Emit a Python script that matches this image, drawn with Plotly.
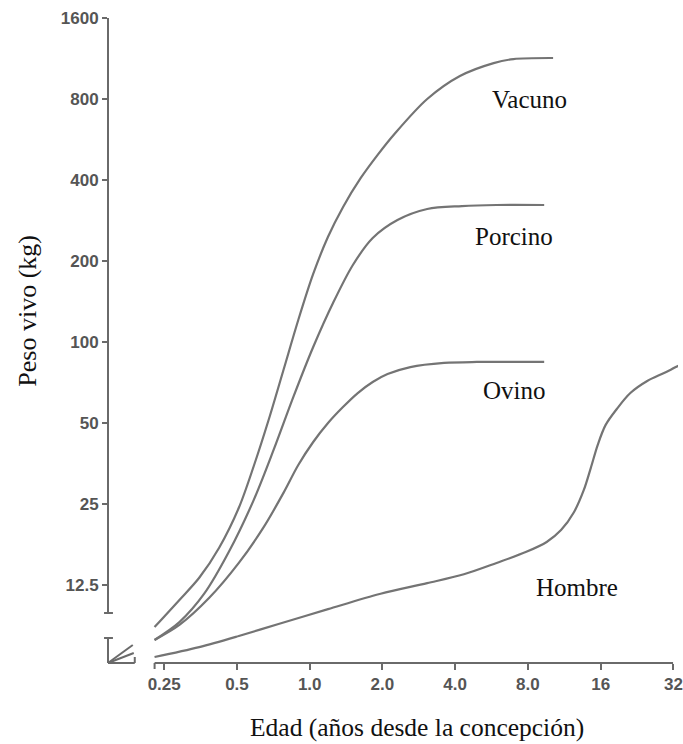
import math
import plotly.graph_objects as go

# ---------------- data ----------------
# Edad (años desde la concepción) vs Peso vivo (kg)
vacuno_x = [0.228, 0.289, 0.349, 0.422, 0.509, 0.587, 0.676, 0.779, 0.897, 1.034, 1.191, 1.373, 1.627, 1.911, 2.243, 3.064, 4.185, 5.770, 6.970, 10.17]
vacuno_y = [8.72, 11.0, 13.3, 17.2, 24.2, 34.6, 51.3, 78.7, 120.7, 179, 246, 317, 407, 496, 593, 800, 974, 1088, 1126, 1136]

porcino_x = [0.228, 0.289, 0.366, 0.463, 0.587, 0.709, 0.856, 1.034, 1.249, 1.509, 1.823, 2.308, 3.064, 4.265, 5.936, 9.341]
porcino_y = [7.81, 9.10, 11.6, 16.6, 25.9, 39.7, 62.5, 95.8, 139.6, 193.3, 243.5, 284, 312, 320, 323, 323]

ovino_x = [0.228, 0.289, 0.384, 0.509, 0.645, 0.779, 0.897, 1.034, 1.191, 1.373, 1.581, 1.823, 2.100, 2.609, 3.598, 4.914, 9.341]
ovino_y = [7.81, 8.88, 11.2, 15.1, 20.5, 27.5, 34.9, 42.5, 50.0, 57.3, 64.6, 71.0, 76.0, 80.7, 83.6, 84.3, 84.3]

hombre_x = [0.228, 0.349, 0.509, 0.743, 1.191, 1.966, 3.064, 4.346, 5.936, 7.881, 9.565, 10.97, 12.40, 13.63, 14.56, 15.55, 16.78, 18.78, 21.23, 24.93, 29.27, 33.42, 35.7]
hombre_y = [6.75, 7.35, 8.08, 8.95, 10.17, 11.6, 12.7, 13.7, 15.1, 16.6, 18.06, 20.0, 23.3, 28.2, 34.0, 41.4, 49.2, 56.8, 64.6, 71.6, 76.7, 81.4, 83.6]

x_ticks = [0.25, 0.5, 1, 2, 4, 8, 16, 32]
x_ticktext = ["0.25", "0.5", "1.0", "2.0", "4.0", "8.0", "16", "32"]
y_ticks = [12.5, 25, 50, 100, 200, 400, 800, 1600]
y_ticktext = ["12.5", "25", "50", "100", "200", "400", "800", "1600"]

series_names = ["Vacuno", "Porcino", "Ovino", "Hombre"]
label_x = [8.13, 7.0, 7.05, 12.75]
label_y = [800, 246, 65.8, 12.2]

# ---------------- layout geometry ----------------
W, H = 683, 744
L, R, T, B = 108, 683, 10, 663          # plot area in pixels
X_REF_PX, X_PX_PER_DBL = 164.7, 73.38   # 0.25 position, px per doubling
Y_REF_PX, Y_PX_PER_DBL = 585.0, 81.0    # 12.5 position, px per doubling
LOG2 = math.log10(2)


def xr(p):
    return math.log10(0.25) + (p - X_REF_PX) / X_PX_PER_DBL * LOG2


def yr(p):
    return math.log10(12.5) + (Y_REF_PX - p) / Y_PX_PER_DBL * LOG2


def fx(p):
    return (p - L) / (R - L)


def fy(p):
    return (B - p) / (B - T)


AXIS_GRAY = "#6a6a6a"
LINE_GRAY = "#747474"
TICK_FONT = dict(family="Liberation Sans, Arial, sans-serif", size=17, color="#555555")
SERIF = "Liberation Serif, Times New Roman, serif"

fig = go.Figure()
for xs, ys, name in [(vacuno_x, vacuno_y, "Vacuno"), (porcino_x, porcino_y, "Porcino"),
                     (ovino_x, ovino_y, "Ovino"), (hombre_x, hombre_y, "Hombre")]:
    fig.add_trace(go.Scatter(x=xs, y=ys, mode="lines", name=name,
                             line=dict(color=LINE_GRAY, width=2.2, shape="spline", smoothing=0.9),
                             hoverinfo="skip"))

for name, lx, ly in zip(series_names, label_x, label_y):
    fig.add_annotation(x=math.log10(lx), y=math.log10(ly), xref="x", yref="y", text=name,
                       showarrow=False, font=dict(family=SERIF, size=25, color="#111111"),
                       xanchor="center", yanchor="middle")

# axis titles
fig.add_annotation(x=fx(420), y=fy(727), xref="paper", yref="paper",
                   text="Edad (años desde la concepción)", showarrow=False,
                   font=dict(family=SERIF, size=25.5, color="#111111"), xanchor="center", yanchor="middle")
fig.add_annotation(x=fx(26), y=fy(311), xref="paper", yref="paper",
                   text="Peso vivo (kg)", showarrow=False, textangle=-90,
                   font=dict(family=SERIF, size=26, color="#111111"), xanchor="center", yanchor="middle")

# broken axis lines (decoration)
segs = [
    ((108, 18), (108, 613)),    # upper y-axis
    ((104, 613), (113, 613)),   # cap
    ((104, 638), (113, 638)),   # cap lower segment
    ((108, 638), (108, 663)),   # lower y stub
    ((108, 663), (135, 663)),   # x stub
    ((135, 657), (135, 663)),
    ((108, 663), (133, 645)),   # break marks
    ((108, 663), (134, 653)),
    ((155, 663), (678, 663)),   # main x-axis
    ((155, 663), (155, 669)),
]
for (x0, y0), (x1, y1) in segs:
    fig.add_shape(type="line", xref="paper", yref="paper",
                  x0=fx(x0), y0=fy(y0), x1=fx(x1), y1=fy(y1),
                  line=dict(color=AXIS_GRAY, width=2))

fig.update_layout(
    width=W, height=H,
    margin=dict(l=L, r=W - R, t=T, b=H - B, pad=0),
    paper_bgcolor="white", plot_bgcolor="white",
    showlegend=False,
    xaxis=dict(type="log", range=[xr(L), xr(R)], tickvals=x_ticks,
               ticktext=["<b>%s</b>" % t for t in x_ticktext],
               ticks="outside", ticklen=6, tickwidth=2, tickcolor=AXIS_GRAY,
               ticklabeloverflow="allow",
               showline=False, showgrid=False, zeroline=False, tickfont=TICK_FONT),
    yaxis=dict(type="log", range=[yr(B), yr(T)], tickvals=y_ticks,
               ticktext=["<b>%s</b>" % t for t in y_ticktext],
               ticks="outside", ticklen=5, tickwidth=2, tickcolor=AXIS_GRAY,
               showline=False, showgrid=False, zeroline=False, tickfont=TICK_FONT),
)

fig.write_html("out.html")
